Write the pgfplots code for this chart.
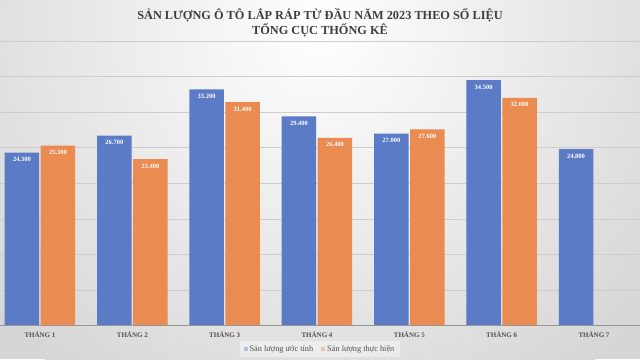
\documentclass[border=0pt]{standalone}
\usepackage{fontspec}
\setmainfont{Liberation Serif}
\usepackage{pgfplots}
\pgfplotsset{compat=1.18}
\definecolor{cblue}{RGB}{91,123,199}
\definecolor{corange}{RGB}{234,139,82}
\definecolor{bggray}{RGB}{214,214,214}
\definecolor{gridc}{RGB}{205,205,205}
\definecolor{titlec}{RGB}{62,62,62}
\definecolor{labc}{RGB}{80,80,80}
\begin{document}
\begin{tikzpicture}[x=1pt,y=1pt]
\useasboundingbox (0,0) rectangle (640,359);
\clip (0,0) rectangle (640,359);
\fill[bggray] (0,0) rectangle (640,359);
\shade[inner color=white, outer color=bggray] (320,330) circle (430);
\begin{axis}[
  scale only axis,
  width=646.4pt, height=284.7pt,
  at={(-6.2pt,33.3pt)}, anchor=south west,
  ymin=0, ymax=40000,
  xmin=-0.5, xmax=6.5,
  ybar=1.5pt, bar width=34.5pt,
  ytick={0,5000,...,40000},
  yticklabels={},
  scaled y ticks=false,
  ymajorgrids, grid style={gridc, line width=0.6pt},
  major tick length=0pt,
  axis line style={draw=none},
  xtick=data,
  xticklabels={THÁNG 1,THÁNG 2,THÁNG 3,THÁNG 4,THÁNG 5,THÁNG 6,THÁNG 7},
  xticklabel style={font=\bfseries\fontsize{7}{8}\selectfont, text=labc, yshift=-2pt},
  /pgf/number format/.cd, 1000 sep={.}, assume math mode=true,
  /pgfplots/.cd,
  nodes near coords,
  every node near coord/.append style={anchor=north, yshift=-1pt, font=\bfseries\fontsize{6.5}{7}\selectfont, text=white},
  legend style={at={(axis description cs:0.5046,0)}, anchor=center, yshift=-23.3pt,
    draw=none, fill=white, fill opacity=0.4, text opacity=1,
    font=\fontsize{8.3}{10}\selectfont, text=labc,
    legend columns=2, /tikz/every even column/.append style={column sep=6pt},
    inner xsep=4pt, inner ysep=2pt},
  legend image code/.code={\fill[#1] (0pt,-2pt) rectangle (4pt,2pt);},
  clip=false,
]
\addplot[fill=cblue, draw=none] coordinates {(0,24300) (1,26700) (2,33200) (3,29400) (4,27000) (5,34500) (6,24800)};
\addplot[fill=corange, draw=none] coordinates {(0,25300) (1,23400) (2,31400) (3,26400) (4,27600) (5,32000)};
\draw[draw={rgb,255:red,150;green,150;blue,150}, line width=0.9pt] (axis cs:-0.5,0) -- (axis cs:6.5,0);
\legend{Sản lượng ước tính, Sản lượng thực hiện}
\end{axis}
\node[font=\bfseries\fontsize{12.3}{15}\selectfont, text=titlec, align=center, anchor=north] at (320,354) {SẢN LƯỢNG Ô TÔ LẮP RÁP TỪ ĐẦU NĂM 2023 THEO SỐ LIỆU\\TỔNG CỤC THỐNG KÊ};
\end{tikzpicture}
\end{document}
